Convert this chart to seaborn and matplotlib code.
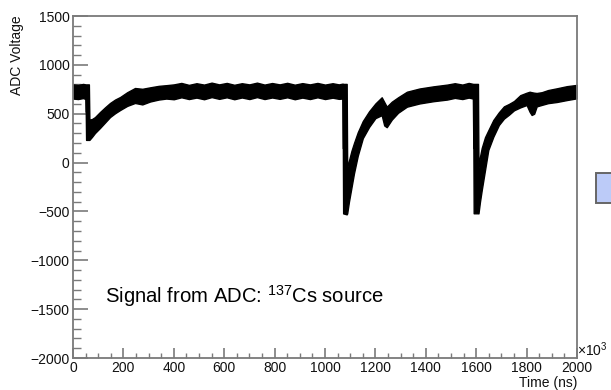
import matplotlib
matplotlib.use("Agg")
import matplotlib.pyplot as plt
from matplotlib.patches import Rectangle
from matplotlib.ticker import MultipleLocator
import seaborn as sns
import pandas as pd

# ---- data (time in units of 10^3 ns, ADC band edges) ----
time_us = [0, 20, 40, 50, 52, 63,
           65, 75, 87, 107, 127, 147, 167, 187, 215, 246, 275, 306, 340, 370,
           400, 430, 460, 490, 520, 550, 580, 610, 640, 670, 700, 730, 760, 790,
           820, 850, 880, 910, 940, 970, 1000, 1030, 1055, 1070,
           1072, 1086,
           1088, 1095, 1105, 1115, 1130, 1150, 1175, 1200, 1225, 1235, 1245, 1265,
           1290, 1325, 1375, 1430, 1485,
           1515, 1545, 1570, 1588,
           1590, 1607,
           1609, 1615, 1622, 1635, 1648, 1668, 1690, 1710, 1730, 1750, 1775, 1800,
           1812, 1820, 1830, 1840, 1860, 1885, 1920, 1960, 2000]
adc_upper = [800, 795, 805, 800, 800, 800,
             440, 445, 465, 517, 565, 610, 645, 671, 720, 763, 755, 770, 785, 792,
             800, 815, 795, 812, 798, 818, 800, 815, 796, 812, 800, 818, 798, 814,
             800, 816, 797, 813, 800, 815, 798, 812, 800, 808,
             805, 805,
             -55, 20, 120, 200, 310, 425, 525, 605, 668, 620, 572, 623,
             668, 725, 758, 780, 798,
             812, 798, 815, 805,
             805, 805,
             -60, 60, 150, 260, 330, 436, 515, 575, 600, 630, 690, 715,
             725, 720, 715, 712, 720, 742, 760, 782, 795]
adc_lower = [655, 650, 660, 650, 232, 232,
             232, 262, 302, 354, 410, 466, 505, 538, 580, 610, 595, 625, 645, 655,
             648, 668, 650, 665, 648, 670, 652, 668, 648, 666, 650, 670, 650, 666,
             652, 668, 648, 665, 650, 668, 650, 664, 652, 656,
             -520, -530,
             -520, -400, -255, -110, 70, 250, 365, 455, 485, 380, 362, 440,
             510, 572, 605, 628, 645,
             662, 650, 665, 655,
             -519, -519,
             -520, -400, -281, -76, 129, 265, 385, 450, 490, 535, 565, 589,
             520, 487, 500, 575, 590, 608, 620, 640, 658]

x_ticks = [0, 200, 400, 600, 800, 1000, 1200, 1400, 1600, 1800, 2000]
y_ticks = [-2000, -1500, -1000, -500, 0, 500, 1000, 1500]

df = pd.DataFrame({
    "t": time_us + time_us,
    "v": adc_upper + adc_lower,
})

sns.set_theme(style="white")
plt.rcParams["font.family"] = ["Liberation Sans", "DejaVu Sans"]
plt.rcParams["mathtext.fontset"] = "custom"
plt.rcParams["mathtext.rm"] = "Liberation Sans"
plt.rcParams["mathtext.it"] = "Liberation Sans:italic"
plt.rcParams["mathtext.default"] = "regular"

FS = 10.0
W, H = 611, 390
fig = plt.figure(figsize=(W / 100, H / 100), dpi=100)
fig.patch.set_facecolor("white")
ax = fig.add_axes([73 / W, 1 - 358 / H, (577 - 73) / W, (358 - 16) / H])
ax.set_facecolor("white")

sns.lineplot(data=df, x="t", y="v", errorbar=("pi", 100), estimator="mean",
             color="black", linewidth=0.8, ax=ax, sort=True,
             err_kws={"alpha": 1.0, "linewidth": 1.0, "edgecolor": "black"})

ax.set_xlim(0, 2000)
ax.set_ylim(-2000, 1500)
ax.set_xticks(x_ticks)
ax.set_yticks(y_ticks)
ax.set_xticklabels([str(v) for v in x_ticks])
ax.set_yticklabels([str(v).replace("-", "\u2212") for v in y_ticks])
ax.xaxis.set_minor_locator(MultipleLocator(50))
ax.yaxis.set_minor_locator(MultipleLocator(100))
ax.set_xlabel("")
ax.set_ylabel("")

axis_col = "#7a7a7a"
for s in ax.spines.values():
    s.set_color(axis_col)
    s.set_linewidth(1.3)
ax.tick_params(axis="both", which="both", direction="in", color=axis_col,
               labelcolor="#111111", labelsize=FS, top=False, right=False,
               left=True, bottom=True)
ax.tick_params(axis="y", which="major", length=11, width=1.2, pad=2.5)
ax.tick_params(axis="y", which="minor", length=6, width=1.0)
ax.tick_params(axis="x", which="major", length=7, width=1.2, pad=1.8)
ax.tick_params(axis="x", which="minor", length=3.6, width=1.0)

fig.text(577 / W, 1 - 382.5 / H, "Time (ns)", ha="right", va="center",
         fontsize=FS, color="#111111")
fig.text(577 / W, 1 - 356 / H, r"×10$^{3}$", ha="left", va="baseline",
         fontsize=FS, color="#111111")
fig.text(17.5 / W, 1 - 15 / H, "ADC Voltage", ha="center", va="top",
         rotation=90, fontsize=FS, color="#111111")

ax.text(127, -1437, r"Signal from ADC: $^{137}$Cs source", ha="left",
        va="baseline", fontsize=14.6, color="black",
        transform=ax.transData)

fig.patches.append(Rectangle((596 / W, 1 - 203 / H), 30 / W, 30 / H,
                             transform=fig.transFigure, facecolor="#bccbf8",
                             edgecolor="#666666", linewidth=1.4))

fig.savefig("out.png", dpi=100, facecolor="white")
